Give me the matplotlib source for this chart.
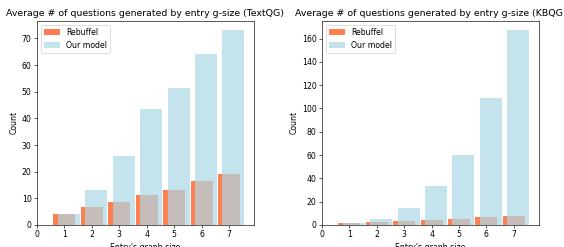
import matplotlib
matplotlib.use("Agg")
import matplotlib.pyplot as plt
import numpy as np

sizes = [1, 2, 3, 4, 5, 6, 7]
textqg_rebuffel = [4.0, 6.6, 8.8, 11.1, 13.0, 16.4, 19.0]
textqg_ours = [4.2, 13.1, 26.0, 43.6, 51.3, 64.3, 73.0]
kbqg_rebuffel = [1.5, 2.9, 3.6, 4.4, 5.3, 6.6, 7.7]
kbqg_ours = [1.3, 5.3, 15.0, 33.5, 60.0, 109.0, 167.0]
titles = ["Average # of questions generated by entry g-size (TextQG)",
          "Average # of questions generated by entry g-size (KBQG)"]

dpi = 56
fig = plt.figure(figsize=(564 / dpi, 247 / dpi), dpi=dpi)
ax1 = fig.add_axes([37 / 564, 1 - 225 / 247, (254 - 37) / 564, (225 - 20.7) / 247])
ax2 = fig.add_axes([322 / 564, 1 - 225 / 247, (538.7 - 322) / 564, (225 - 20.7) / 247])

x = np.array(sizes)
for ax, reb, ours, title in [(ax1, textqg_rebuffel, textqg_ours, titles[0]),
                             (ax2, kbqg_rebuffel, kbqg_ours, titles[1])]:
    ax.bar(x, reb, width=0.8, color="coral", label="Rebuffel")
    ax.bar(x + 0.16, ours, width=0.8, color="lightblue", alpha=0.7, label="Our model")
    ax.set_xlim(left=0)
    ax.set_xticks(range(0, 8))
    ax.set_title(title)
    ax.set_xlabel("Entry's graph size")
    ax.set_ylabel("Count")
    ax.legend(loc="upper left")

fig.savefig("out.png", dpi=dpi)
